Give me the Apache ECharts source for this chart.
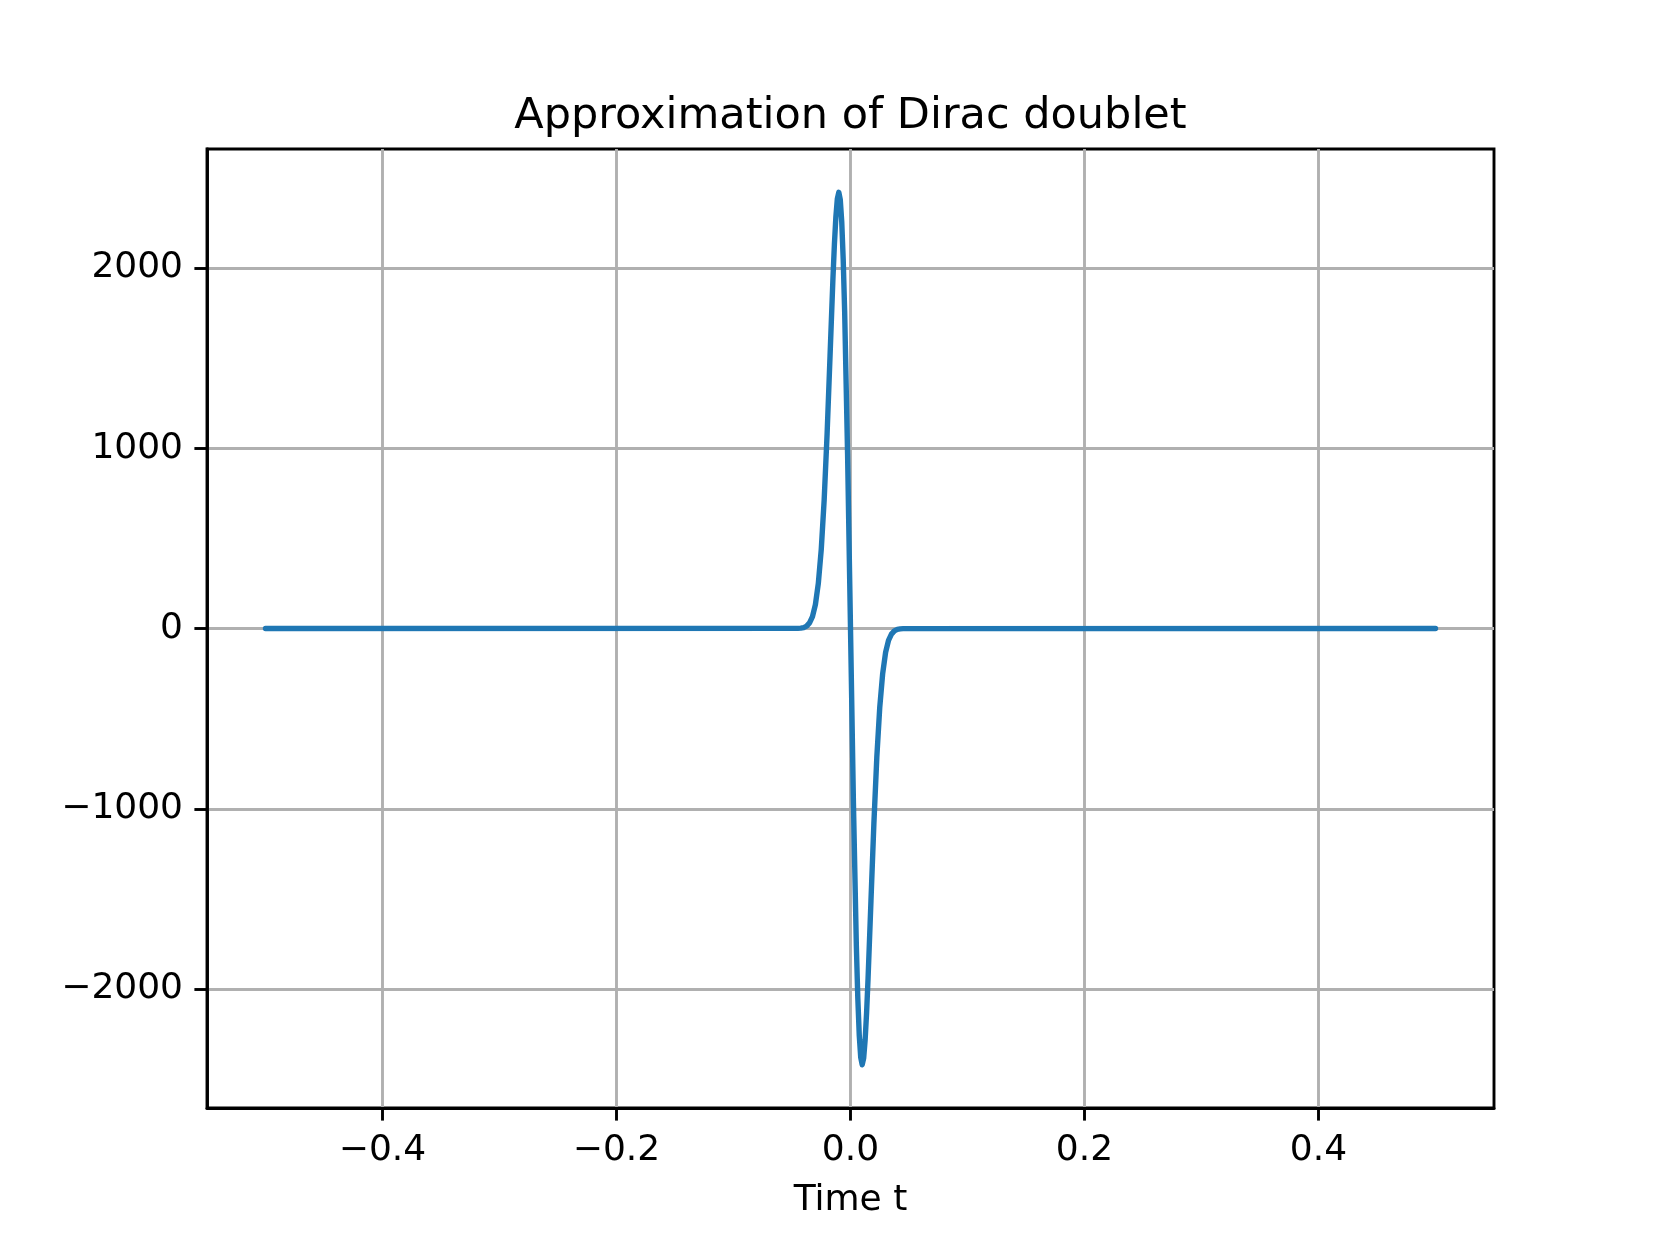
<!DOCTYPE html>
<html>
<head>
<meta charset="utf-8">
<script src="https://cdn.jsdelivr.net/npm/echarts@6/dist/echarts.min.js"></script>
<style>
  html, body { margin: 0; padding: 0; background: #fff; }
  #chart { width: 1660px; height: 1245px; }
</style>
</head>
<body>
<div id="chart"></div>
<script>
// values
var tValues = [
  -0.5, -0.045, -0.0425, -0.04, -0.0375, -0.035, -0.0325, -0.03, -0.0275, -0.025,
  -0.0225, -0.02, -0.0175, -0.015, -0.01375, -0.0125, -0.01125, -0.01, -0.00875, -0.0075,
  -0.00625, -0.005, -0.0025, 0,
  0.0025, 0.005, 0.00625, 0.0075, 0.00875, 0.01, 0.01125, 0.0125, 0.01375, 0.015,
  0.0175, 0.02, 0.0225, 0.025, 0.0275, 0.03, 0.0325, 0.035, 0.0375, 0.04,
  0.0425, 0.045, 0.5
];
var yValues = [
  0, 0.7, 2, 5, 13, 31, 66, 133, 250, 438,
  714, 1080, 1510, 1943, 2132, 2283, 2384, 2420, 2380, 2258,
  2051, 1760, 967, 0,
  -967, -1760, -2051, -2258, -2380, -2420, -2384, -2283, -2132, -1943,
  -1510, -1080, -714, -438, -250, -133, -66, -31, -13, -5,
  -2, -0.7, 0
];
var xTicks = [-0.4, -0.2, 0, 0.2, 0.4];
var yTicks = [-2000, -1000, 0, 1000, 2000];

var font = "DejaVu Sans";
var seriesData = tValues.map(function (t, i) { return [t, yValues[i]]; });

function minus(s, v) {
  return v < 0 ? "\u2212" + s.replace("-", "") : s;
}

var chart = echarts.init(document.getElementById("chart"));
var option = {
  animation: false,
  backgroundColor: "#fff",
  graphic: [
    {
      type: "text",
      x: 850.5,
      y: 116.5,
      style: {
        text: "Approximation of Dirac doublet",
        font: "43px " + font,
        fill: "#000",
        align: "center",
        verticalAlign: "middle",
      },
    },
  ],
  grid: {
    left: 207,
    right: 166,
    top: 149,
    bottom: 137,
    show: true,
    borderColor: "#000",
    borderWidth: 2.9,
    backgroundColor: "transparent",
  },
  xAxis: {
    type: "value",
    min: -0.55,
    max: 0.55,
    name: "Time t",
    nameLocation: "middle",
    nameGap: 75,
    nameTextStyle: { fontFamily: font, fontSize: 36, color: "#000" },
    axisLine: { show: true, onZero: false, lineStyle: { color: "#000", width: 2.9 } },
    axisTick: {
      show: true,
      inside: false,
      length: 12.6,
      customValues: xTicks,
      lineStyle: { color: "#000", width: 2.9 },
    },
    axisLabel: {
      customValues: xTicks,
      margin: 25,
      fontFamily: font,
      fontSize: 36,
      color: "#000",
      formatter: function (v) {
        return minus(v.toFixed(1), v);
      },
    },
    splitLine: { show: true, lineStyle: { color: "#b0b0b0", width: 2.9 } },
  },
  yAxis: {
    type: "value",
    min: -2660,
    max: 2660,
    axisLine: { show: true, onZero: false, lineStyle: { color: "#000", width: 2.9 } },
    axisTick: {
      show: true,
      inside: false,
      length: 12.6,
      customValues: yTicks,
      lineStyle: { color: "#000", width: 2.9 },
    },
    axisLabel: {
      customValues: yTicks,
      margin: 24,
      padding: [4, 0, 0, 0],
      fontFamily: font,
      fontSize: 36,
      color: "#000",
      formatter: function (v) {
        return minus(String(v), v);
      },
    },
    splitLine: { show: true, lineStyle: { color: "#b0b0b0", width: 2.9 } },
  },
  series: [
    {
      type: "line",
      data: seriesData,
      showSymbol: false,
      symbol: "none",
      lineStyle: { color: "#1f77b4", width: 5.4, cap: "round", join: "round" },
    },
  ],
};
chart.setOption(option);
</script>
</body>
</html>
